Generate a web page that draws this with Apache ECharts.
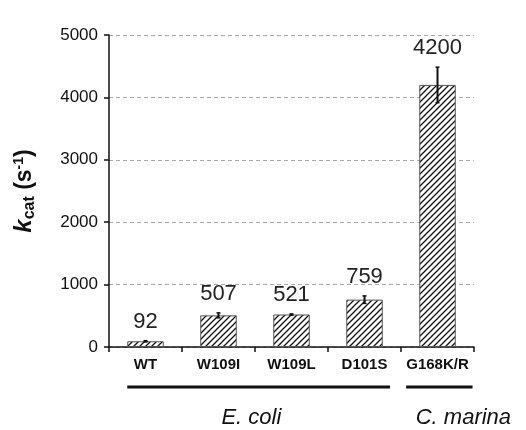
<!DOCTYPE html>
<html>
<head>
<meta charset="utf-8">
<script src="https://cdn.jsdelivr.net/npm/echarts@6/dist/echarts.min.js"></script>
<style>
    html, body { margin: 0; padding: 0; background: #fff; }
    #main { width: 526px; height: 430px; }
</style>
</head>
<body>
<div id="main"></div>
<script>
/* 数据 */
let categories = ['WT', 'W109I', 'W109L', 'D101S', 'G168K/R'];
let kcatValues = [92, 507, 521, 759, 4200];
let kcatErrors = [10, 40, 10, 60, 285];
let yTicks = [0, 1000, 2000, 3000, 4000, 5000];
// 物种分组: 起止类别索引
let groups = [
    { name: 'E. coli', from: 0, to: 3 },
    { name: 'C. marina', from: 4, to: 4 }
];

/* 斜线填充 */
function makeHatch() {
    let c = document.createElement('canvas');
    c.width = 6;
    c.height = 6;
    let ctx = c.getContext('2d');
    ctx.fillStyle = '#fff';
    ctx.fillRect(0, 0, 6, 6);
    ctx.strokeStyle = '#111';
    ctx.lineWidth = 1.3;
    ctx.beginPath();
    ctx.moveTo(-1, 7); ctx.lineTo(7, -1);
    ctx.moveTo(-1, 1); ctx.lineTo(1, -1);
    ctx.moveTo(5, 7); ctx.lineTo(7, 5);
    ctx.stroke();
    return c;
}

var chart = echarts.init(document.getElementById('main'));
let option = {
    animation: false,
    backgroundColor: '#fff',
    grid: {
        left: 109,
        right: 52,
        top: 35,
        bottom: 83
    },
    xAxis: {
        type: 'category',
        data: categories,
        axisLine: { lineStyle: { color: '#111', width: 1.5 } },
        axisTick: { show: true, length: 5, lineStyle: { color: '#111', width: 1.5 } },
        axisLabel: {
            interval: 0,
            color: '#111',
            fontFamily: 'Liberation Sans',
            fontWeight: 'bold',
            fontSize: 15,
            margin: 10
        }
    },
    yAxis: {
        type: 'value',
        min: yTicks[0],
        max: yTicks[yTicks.length - 1],
        interval: 1000,
        name: '{k|k}{sub|cat}{b| (s}{sup|-1}{b|)}',
        nameLocation: 'middle',
        nameRotate: 90,
        nameGap: 71,
        nameTextStyle: {
            rich: {
                k: { fontFamily: 'Liberation Sans', fontWeight: 'bold', fontStyle: 'italic', fontSize: 24, color: '#111' },
                sub: { fontFamily: 'Liberation Sans', fontWeight: 'bold', fontSize: 16, color: '#111', padding: [11, 0, 0, 0] },
                b: { fontFamily: 'Liberation Sans', fontWeight: 'bold', fontSize: 23, color: '#111' },
                sup: { fontFamily: 'Liberation Sans', fontWeight: 'bold', fontSize: 14, color: '#111', padding: [0, 0, 11, 0] }
            }
        },
        axisLine: { show: true, lineStyle: { color: '#111', width: 1.5 } },
        axisTick: { show: true, inside: false, length: 5, lineStyle: { color: '#111', width: 1.5 } },
        axisLabel: {
            color: '#111',
            fontFamily: 'Liberation Sans',
            fontSize: 17,
            margin: 11,
            formatter: function (v) { return String(v); }
        },
        splitLine: { show: true, lineStyle: { color: '#aaa', type: [4, 3], width: 1 } }
    },
    series: [
        {
            name: 'kcat',
            type: 'bar',
            data: kcatValues,
            barWidth: '50%',
            itemStyle: {
                color: { image: makeHatch(), repeat: 'repeat' },
                borderColor: '#555',
                borderWidth: 1
            }
        },
        {
            name: 'error',
            type: 'custom',
            z: 5,
            data: kcatValues.map((v, i) => [i, v, kcatErrors[i]]),
            renderItem: function (params, api) {
                let x = api.coord([api.value(0), 0])[0];
                let hi = api.coord([api.value(0), api.value(1) + api.value(2)])[1];
                let lo = api.coord([api.value(0), api.value(1) - api.value(2)])[1];
                let cap = 2;
                return {
                    type: 'group',
                    children: [
                        { type: 'line', shape: { x1: x, y1: hi, x2: x, y2: lo }, style: { stroke: '#111', lineWidth: 2 } },
                        { type: 'line', shape: { x1: x - cap, y1: hi, x2: x + cap, y2: hi }, style: { stroke: '#111', lineWidth: 1.5 } },
                        { type: 'line', shape: { x1: x - cap, y1: lo, x2: x + cap, y2: lo }, style: { stroke: '#111', lineWidth: 1.5 } },
                        {
                            type: 'text',
                            x: x,
                            y: hi - 8,
                            style: {
                                text: String(api.value(1)),
                                fill: '#222',
                                font: '22px "Liberation Sans"',
                                textAlign: 'center',
                                textVerticalAlign: 'bottom'
                            }
                        }
                    ]
                };
            }
        }
    ]
};
chart.setOption(option);

/* 物种分组线和标签 */
let step = chart.convertToPixel({ xAxisIndex: 0 }, 1) - chart.convertToPixel({ xAxisIndex: 0 }, 0);
let baseY = chart.convertToPixel({ yAxisIndex: 0 }, 0);
let pads = [[0.25, 0.35], [0.43, 0.48]];
let textShift = [-0.1, 0.33];
let graphics = [];
groups.forEach((g, i) => {
    let x1 = chart.convertToPixel({ xAxisIndex: 0 }, g.from) - pads[i][0] * step;
    let x2 = chart.convertToPixel({ xAxisIndex: 0 }, g.to) + pads[i][1] * step;
    graphics.push({
        type: 'line',
        shape: { x1: x1, y1: baseY + 40, x2: x2, y2: baseY + 40 },
        style: { stroke: '#111', lineWidth: 3 }
    });
    graphics.push({
        type: 'text',
        x: (x1 + x2) / 2 + textShift[i] * step,
        y: baseY + 71,
        style: {
            text: g.name,
            fill: '#111',
            font: 'italic 22px "Liberation Sans"',
            textAlign: 'center',
            textVerticalAlign: 'middle'
        }
    });
});
chart.setOption({ graphic: graphics });

window.addEventListener('resize', function () {
    chart.resize();
});
</script>
</body>
</html>
